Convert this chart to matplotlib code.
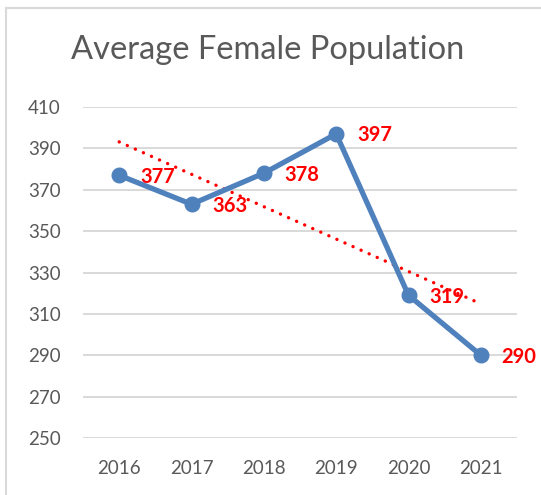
import numpy as np
import matplotlib
matplotlib.use("Agg")
import matplotlib.pyplot as plt
from matplotlib.lines import Line2D

years = ["2016", "2017", "2018", "2019", "2020", "2021"]
female = [377, 363, 378, 397, 319, 290]
y_ticks = [250, 270, 290, 310, 330, 350, 370, 390, 410]

plt.rcParams["font.family"] = ["Lato", "DejaVu Sans"]

fig = plt.figure(figsize=(5.41, 4.95), dpi=100)
ax = fig.add_axes([83 / 541, 1 - 438 / 495, (517 - 83) / 541, (438 - 107) / 495])

x = np.arange(len(years))

# linear trendline, as Excel does it
k, b = np.polyfit(x, female, 1)
ax.plot(x, k * x + b, color="#FF0000", lw=2.4, linestyle=(0, (0.05, 2.6)),
        dash_capstyle="round", zorder=3)

ax.plot(x, female, color="#4F81BD", lw=3.8, marker="o", markersize=10.5, zorder=4)

for xi, v in zip(x, female):
    ax.annotate(str(v), (xi, v), xytext=(15, -1), textcoords="offset points",
                ha="left", va="center", color="#FF0000", fontsize=14.5,
                fontweight="bold", zorder=5)

ax.set_xlim(-0.5, 5.5)
ax.set_ylim(250, 410)
ax.set_yticks(y_ticks)
ax.set_xticks(x)
ax.set_xticklabels(years)
ax.grid(axis="y", color="#D9D9D9", lw=1.4)
ax.set_axisbelow(True)
for s in ax.spines.values():
    s.set_visible(False)
ax.tick_params(length=0, colors="#595959", labelsize=13.5)
ax.tick_params(axis="y", pad=16)
ax.tick_params(axis="x", pad=16)

fig.text(268 / 541, 1 - 50 / 495, "Average Female Population", ha="center",
         va="center", fontsize=23.5, color="#595959")

# chart frame (only top and left edges are in view)
fig.add_artist(Line2D([6 / 541, 6 / 541], [0, 1 - 8 / 495], color="#D9D9D9", lw=1.5))
fig.add_artist(Line2D([6 / 541, 1], [1 - 8 / 495, 1 - 8 / 495], color="#D9D9D9", lw=1.5))

fig.savefig("out.png", dpi=100)
